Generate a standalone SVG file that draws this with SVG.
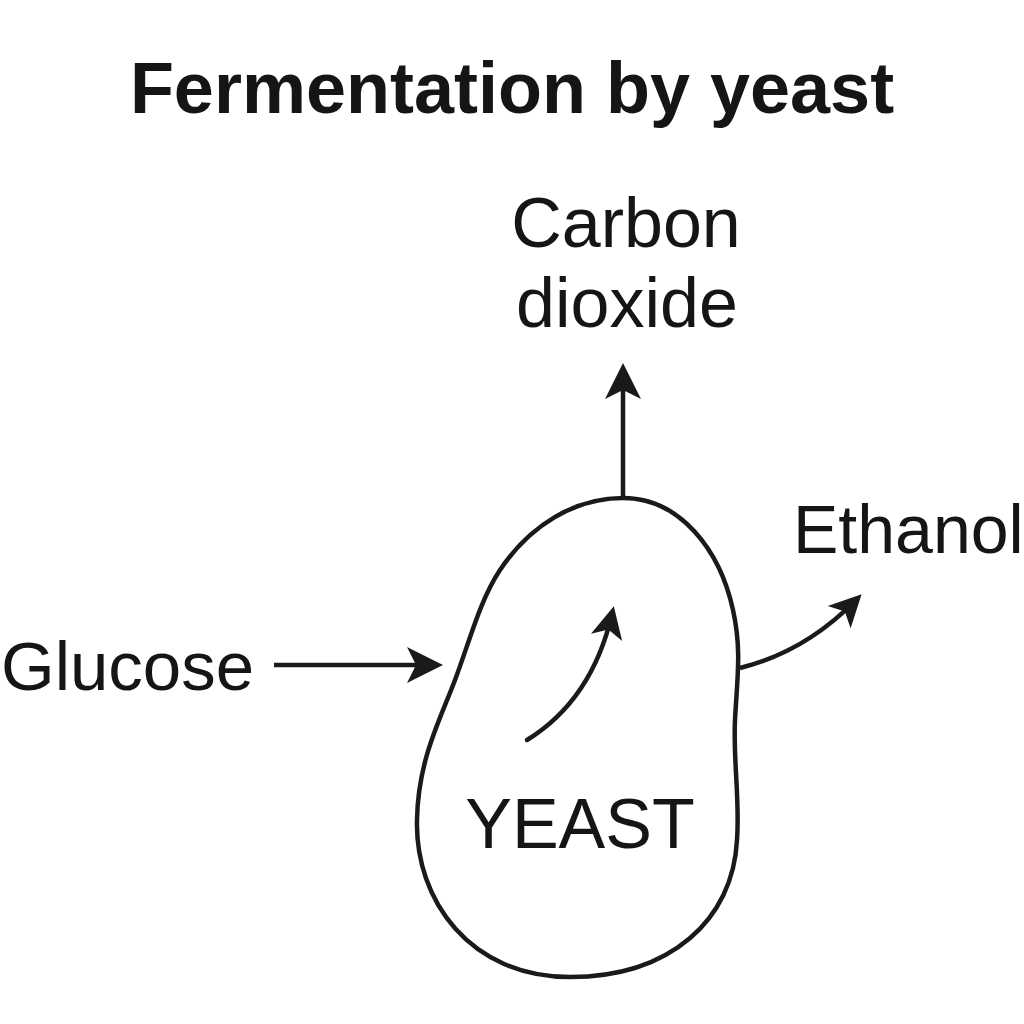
<svg xmlns="http://www.w3.org/2000/svg" width="1024" height="1024" viewBox="0 0 1024 1024">
  <style>
    .t { font-family: "Liberation Sans", Arial, sans-serif; fill: #151515; }
    .title { font-weight: bold; font-size: 72px; }
    .lbl { font-size: 68px; }
    .conn { fill: none; stroke: #1a1a1a; stroke-width: 4.5; }
  </style>
  <defs>
    <marker id="ah" markerUnits="userSpaceOnUse" viewBox="-32 -20 42 40" refX="0" refY="0" markerWidth="42" markerHeight="40" orient="auto">
      <path d="M8,0 L-28,-18 L-19,0 L-28,18 Z" fill="#1a1a1a"/>
    </marker>
    <marker id="ahs" markerUnits="userSpaceOnUse" viewBox="-32 -20 42 40" refX="0" refY="0" markerWidth="42" markerHeight="40" orient="auto">
      <path d="M8,0 L-24,-16 L-16,0 L-24,16 Z" fill="#1a1a1a"/>
    </marker>
  </defs>
  <rect width="1024" height="1024" fill="#ffffff"/>
  <text class="t title" x="512" y="113" text-anchor="middle">Fermentation by yeast</text>

  <g id="yeast">
    <path d="M623,498 C680,498 720,550 733,610 C742,650 737,680 735,720 C733,760 740,800 737,840 C733,920 670,977 570,977 C470,977 415,900 417,820 C418,760 440,720 455,680 C470,640 480,600 500,570 C530,525 575,498 623,498 Z" fill="#ffffff" stroke="#1a1a1a" stroke-width="4.5"/>
    <text class="t" x="580" y="848" font-size="70" text-anchor="middle">YEAST</text>
  </g>
  <g id="glucose">
    <text class="t" x="1" y="690" font-size="69">Glucose</text>
  </g>
  <g id="co2">
    <text class="t" x="626" y="247" font-size="70" text-anchor="middle">Carbon</text>
    <text class="t" x="627" y="327" font-size="70" text-anchor="middle">dioxide</text>
  </g>
  <g id="ethanol">
    <text class="t lbl" x="793" y="553">Ethanol</text>
  </g>

  <g id="connectors">
    <path class="conn" d="M274,665 L435,665" marker-end="url(#ah)"/>
    <path class="conn" d="M623,498 L623,371" marker-end="url(#ah)"/>
    <path class="conn" d="M527,740 Q592,700 612,614" stroke-linecap="round" marker-end="url(#ahs)"/>
    <path class="conn" d="M740,668 Q805,652 856,600" marker-end="url(#ahs)"/>
  </g>
</svg>
